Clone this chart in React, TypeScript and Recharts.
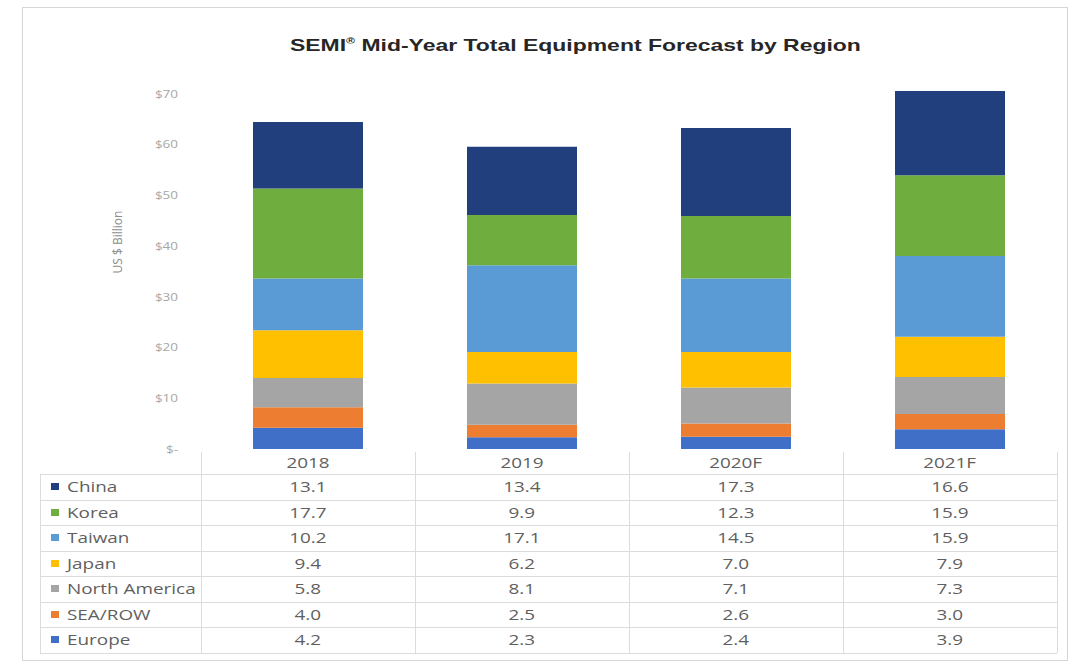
import React from 'react';
import { BarChart, Bar, XAxis, YAxis } from 'recharts';

const years = ['2018', '2019', '2020F', '2021F'];

// bottom-to-top stack order
const europe = [4.2, 2.3, 2.4, 3.9];
const seaRow = [4.0, 2.5, 2.6, 3.0];
const northAmerica = [5.8, 8.1, 7.1, 7.3];
const japan = [9.4, 6.2, 7.0, 7.9];
const taiwan = [10.2, 17.1, 14.5, 15.9];
const korea = [17.7, 9.9, 12.3, 15.9];
const china = [13.1, 13.4, 17.3, 16.6];

const yTicks = [0, 10, 20, 30, 40, 50, 60, 70];

const series = [
  { key: 'europe', name: 'Europe', values: europe, color: '#3f6fc6' },
  { key: 'seaRow', name: 'SEA/ROW', values: seaRow, color: '#ed7d31' },
  { key: 'northAmerica', name: 'North America', values: northAmerica, color: '#a5a5a5' },
  { key: 'japan', name: 'Japan', values: japan, color: '#ffc000' },
  { key: 'taiwan', name: 'Taiwan', values: taiwan, color: '#5b9bd5' },
  { key: 'korea', name: 'Korea', values: korea, color: '#6fad3f' },
  { key: 'china', name: 'China', values: china, color: '#213f7c' },
];

const data = years.map((year, i) => {
  const row: Record<string, string | number> = { year };
  series.forEach((s) => {
    row[s.key] = s.values[i];
  });
  return row;
});

// table shows top-of-stack first
const tableRows = [...series].reverse();

const FONT = '"Open Sans", "Liberation Sans", sans-serif';
const STRETCH = 1.35; // the source image is widened horizontally
const COL0_LEFT = 40;
const COL0_RIGHT = 201;
const COL_W = 214;
const HEADER_TOP = 452;
const HEADER_H = 22;
const ROW_H = 25.5;
const LINE = '#dcdcdc';
const TEXT = '#5f5f5f';

function Wide({ children, origin = 'center' }: { children: React.ReactNode; origin?: string }) {
  return (
    <span
      style={{
        display: 'inline-block',
        transform: `scaleX(${STRETCH})`,
        transformOrigin: origin,
      }}
    >
      {children}
    </span>
  );
}

function YTick(props: any) {
  const { x, y, payload } = props;
  const label = payload.value === 0 ? '$-' : `$${payload.value}`;
  return (
    <text
      x={x}
      y={y}
      dy={4}
      textAnchor="end"
      fill="#a6a6a6"
      fontSize={10}
      fontFamily={FONT}
      transform={`translate(${x},0) scale(${STRETCH},1) translate(${-x},0)`}
    >
      {label}
    </text>
  );
}

export default function App() {
  return (
    <div
      style={{
        position: 'absolute',
        left: 0,
        top: 0,
        width: 1077,
        height: 670,
        background: '#fff',
        fontFamily: FONT,
        overflow: 'hidden',
      }}
    >
      <div
        style={{
          position: 'absolute',
          left: 22,
          top: 7,
          width: 1044,
          height: 652,
          border: '1px solid #d6d6d6',
        }}
      />
      <div
        style={{
          position: 'absolute',
          top: 36,
          left: 0,
          width: 1150,
          textAlign: 'center',
          fontFamily: '"Liberation Sans", Arial, sans-serif',
          fontWeight: 'bold',
          fontSize: 17,
          color: '#262626',
        }}
      >
        <Wide>
          SEMI<sup style={{ fontSize: 9 }}>®</sup> Mid-Year Total Equipment Forecast by Region
        </Wide>
      </div>

      <div style={{ position: 'absolute', left: 0, top: 0 }}>
        <BarChart
          width={1077}
          height={470}
          data={data}
          margin={{ top: 91, right: 20, bottom: 21, left: 0 }}
        >
          <XAxis dataKey="year" hide />
          <YAxis
            width={201}
            domain={[0, 70]}
            ticks={yTicks}
            interval={0}
            axisLine={false}
            tickLine={false}
            tickSize={0}
            tickMargin={23}
            tick={<YTick />}
            label={{
              value: 'US $ Billion',
              angle: -90,
              position: 'center',
              dx: 17,
              dy: -28,
              fill: '#8c8c8c',
              fontSize: 12,
              fontFamily: FONT,
            }}
          />
          {series.map((s) => (
            <Bar
              key={s.key}
              dataKey={s.key}
              name={s.name}
              stackId="a"
              fill={s.color}
              barSize={110}
              isAnimationActive={false}
            />
          ))}
        </BarChart>
      </div>

      {/* data table */}
      <div style={{ position: 'absolute', left: 0, top: 0, width: 1077, height: 670 }}>
        {years.map((y, i) => (
          <div
            key={y}
            style={{
              position: 'absolute',
              left: COL0_RIGHT + i * COL_W,
              top: HEADER_TOP,
              width: COL_W,
              height: HEADER_H,
              lineHeight: `${HEADER_H}px`,
              textAlign: 'center',
              fontSize: 14,
              color: TEXT,
            }}
          >
            <Wide>{y}</Wide>
          </div>
        ))}
        {/* vertical lines */}
        {[0, 1, 2, 3, 4].map((i) => (
          <div
            key={i}
            style={{
              position: 'absolute',
              left: COL0_RIGHT + i * COL_W,
              top: HEADER_TOP,
              width: 1,
              height: HEADER_H + ROW_H * tableRows.length,
              background: LINE,
            }}
          />
        ))}
        <div
          style={{
            position: 'absolute',
            left: COL0_LEFT,
            top: HEADER_TOP + HEADER_H,
            width: 1,
            height: ROW_H * tableRows.length,
            background: LINE,
          }}
        />
        {tableRows.map((s, r) => {
          const top = HEADER_TOP + HEADER_H + r * ROW_H;
          return (
            <React.Fragment key={s.key}>
              <div
                style={{
                  position: 'absolute',
                  left: COL0_LEFT,
                  top,
                  width: COL0_RIGHT + 4 * COL_W - COL0_LEFT,
                  height: 1,
                  background: LINE,
                }}
              />
              <div
                style={{
                  position: 'absolute',
                  left: 51,
                  top: top + ROW_H / 2 - 3.5,
                  width: 8,
                  height: 7,
                  background: s.color,
                }}
              />
              <div
                style={{
                  position: 'absolute',
                  left: 67,
                  top,
                  height: ROW_H,
                  lineHeight: `${ROW_H}px`,
                  fontSize: 14,
                  color: TEXT,
                  whiteSpace: 'nowrap',
                }}
              >
                <Wide origin="left">{s.name}</Wide>
              </div>
              {s.values.map((v, i) => (
                <div
                  key={i}
                  style={{
                    position: 'absolute',
                    left: COL0_RIGHT + i * COL_W,
                    top,
                    width: COL_W,
                    height: ROW_H,
                    lineHeight: `${ROW_H}px`,
                    textAlign: 'center',
                    fontSize: 14,
                    color: TEXT,
                  }}
                >
                  <Wide>{v.toFixed(1)}</Wide>
                </div>
              ))}
            </React.Fragment>
          );
        })}
        <div
          style={{
            position: 'absolute',
            left: COL0_LEFT,
            top: HEADER_TOP + HEADER_H + tableRows.length * ROW_H,
            width: COL0_RIGHT + 4 * COL_W - COL0_LEFT,
            height: 1,
            background: LINE,
          }}
        />
      </div>
    </div>
  );
}
